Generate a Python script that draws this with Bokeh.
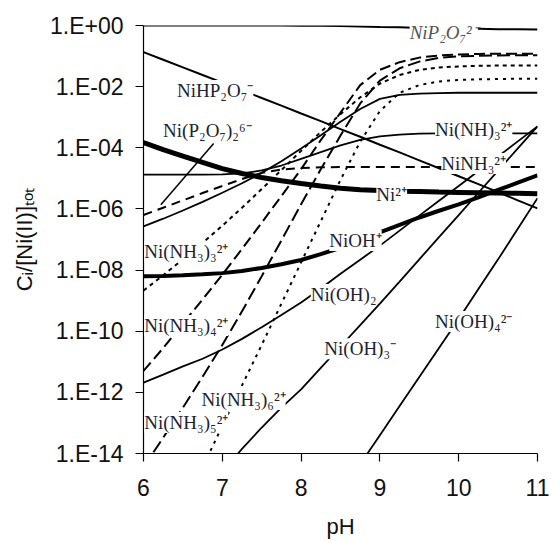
import math
from bokeh.plotting import figure
from bokeh.models import FixedTicker, CustomJSTickFormatter, Label
from bokeh.embed import file_html
from bokeh.resources import INLINE

nan = float("nan")

# pH grid
pH = [6, 6.25, 6.5, 6.75, 7, 7.25, 7.5, 7.75, 8, 8.25, 8.5, 8.75, 9, 9.25, 9.5, 9.75, 10, 10.25, 10.5, 10.75, 11]

# log10(Ci/[Ni(II)]tot)
NiP2O7 = [0, 0, 0, 0, 0, 0, 0, 0, -0.01, -0.01, -0.02, -0.03, -0.05, -0.06, -0.08, -0.09, -0.10, -0.11, -0.12, -0.125, -0.13]
NiHP2O7 = [-0.87, -1.12, -1.37, -1.62, -1.87, -2.12, -2.37, -2.62, -2.88, -3.13, -3.39, -3.64, -3.90, -4.15, -4.41, -4.67, -4.93, -5.19, -5.45, -5.72, -5.98]
Ni2 = [-3.83, -4.06, -4.27, -4.48, -4.68, -4.84, -4.97, -5.08, -5.17, -5.25, -5.32, -5.37, -5.40, -5.42, -5.43, -5.45, -5.46, -5.47, -5.48, -5.49, -5.50]
NiOH = [-8.20, -8.19, -8.17, -8.14, -8.10, -8.03, -7.93, -7.81, -7.67, -7.48, -7.27, -7.02, -6.77, -6.52, -6.28, -6.06, -5.85, -5.62, -5.38, -5.14, -4.90]
NiOH2 = [-11.68, -11.42, -11.15, -10.90, -10.60, -10.25, -9.87, -9.47, -9.06, -8.60, -8.12, -7.66, -7.20, -6.71, -6.22, -5.73, -5.25, -4.76, -4.28, -3.79, -3.30]
NiOH3 = [nan, nan, nan, nan, -14.60, -13.85, -13.15, -12.50, -11.90, -11.20, -10.50, -9.80, -9.10, -8.38, -7.65, -6.92, -6.20, -5.47, -4.75, -4.02, -3.30]
NiOH4 = [nan, nan, nan, nan, nan, nan, nan, nan, nan, nan, -15.30, -14.35, -13.40, -12.45, -11.50, -10.55, -9.60, -8.62, -7.65, -6.65, -5.65]
NiNH3_1 = [-4.88, -4.88, -4.88, -4.88, -4.87, -4.84, -4.74, -4.58, -4.36, -4.14, -3.92, -3.74, -3.63, -3.57, -3.54, -3.53, -3.53, -3.53, -3.53, -3.53, -3.53]
NiP2O7_2 = [-6.20, -5.96, -5.72, -5.48, -5.25, -5.02, -4.82, -4.71, -4.66, -4.64, -4.63, -4.63, -4.63, -4.63, -4.63, -4.63, -4.63, -4.63, -4.63, -4.63, -4.63]
NiNH3_2 = [-6.57, -6.32, -6.05, -5.77, -5.47, -5.16, -4.82, -4.44, -4.02, -3.59, -3.15, -2.73, -2.40, -2.27, -2.23, -2.21, -2.20, -2.20, -2.20, -2.20, -2.20]
NiNH3_3 = [-8.67, -8.17, -7.65, -7.11, -6.55, -5.96, -5.35, -4.73, -4.10, -3.48, -2.90, -2.35, -1.90, -1.62, -1.45, -1.37, -1.34, -1.32, -1.31, -1.31, -1.31]
NiNH3_4 = [-11.30, -10.55, -9.75, -8.96, -8.15, -7.31, -6.45, -5.58, -4.70, -3.75, -2.85, -1.95, -1.45, -1.20, -1.05, -0.98, -0.95, -0.93, -0.92, -0.92, -0.92]
NiNH3_5 = [-14.45, -13.48, -12.50, -11.49, -10.45, -9.35, -8.20, -7.03, -5.85, -4.70, -3.60, -2.55, -1.80, -1.40, -1.18, -1.06, -1.01, -0.99, -0.98, -0.97, -0.97]
NiNH3_6 = [nan, nan, -15.80, -14.45, -13.10, -11.77, -10.45, -9.10, -7.75, -6.40, -5.05, -3.80, -2.80, -2.20, -1.95, -1.83, -1.78, -1.76, -1.75, -1.74, -1.74]

# leader line from the Ni(P2O7)2 label
leader_x = [6.89, 6.22]
leader_y = [-3.86, -5.86]

y_ticks_exp = [-14, -12, -10, -8, -6, -4, -2, 0]
x_ticks = [6, 7, 8, 9, 10, 11]

def lin(v):
    return [10 ** a if a == a else nan for a in v]

p = figure(width=551, height=542, x_range=(6, 11), y_range=(1e-14, 1),
           y_axis_type="log", output_backend="svg", toolbar_location=None,
           min_border_left=143, min_border_right=14, min_border_top=25, min_border_bottom=89)
p.outline_line_color = None
p.xgrid.visible = False
p.ygrid.visible = False
p.background_fill_color = "white"
p.border_fill_color = "white"

curves = [
    (NiP2O7, 2, "solid"),
    (NiHP2O7, 2, "solid"),
    (NiNH3_1, 1.8, "solid"),
    (NiNH3_2, 1.8, "solid"),
    (NiP2O7_2, 2, "9 6"),
    (NiNH3_3, 2, "4 4"),
    (NiNH3_4, 2, "11 5"),
    (NiNH3_5, 2, "13 5"),
    (NiNH3_6, 2, "3 5"),
    (NiOH2, 1.8, "solid"),
    (NiOH3, 1.8, "solid"),
    (NiOH4, 1.8, "solid"),
    (Ni2, 5, "solid"),
    (NiOH, 4, "solid"),
]
for data, w, dash in curves:
    p.line(pH, lin(data), line_color="black", line_width=w, line_dash=dash)

p.line(leader_x, lin(leader_y), line_color="black", line_width=1.5)

# (text, x, log y, align, font style, colour)
labels = [
    ("NiP\u2082O\u2087\u00b2\u207b", 9.81, -0.23, "center", "italic", "#555555"),
    ("NiHP\u2082O\u2087\u207b", 6.91, -2.13, "center", "normal", "#222233"),
    ("Ni(P\u2082O\u2087)\u2082\u2076\u207b", 6.81, -3.43, "center", "normal", "#222233"),
    ("Ni(NH)\u2083\u00b2\u207a", 10.19, -3.40, "center", "normal", "#222233"),
    ("NiNH\u2083\u00b2\u207a", 10.19, -4.51, "center", "normal", "#222233"),
    ("Ni\u00b2\u207a", 9.15, -5.53, "center", "normal", "#222233"),
    ("NiOH\u207a", 8.69, -7.03, "center", "normal", "#222233"),
    ("Ni(NH\u2083)\u2083\u00b2\u207a", 6.01, -7.39, "left", "normal", "#222233"),
    ("Ni(OH)\u2082", 8.54, -8.80, "center", "normal", "#222233"),
    ("Ni(NH\u2083)\u2084\u00b2\u207a", 6.01, -9.81, "left", "normal", "#222233"),
    ("Ni(OH)\u2083\u207b", 8.75, -10.57, "center", "normal", "#222233"),
    ("Ni(OH)\u2084\u00b2\u207b", 10.19, -9.68, "center", "normal", "#222233"),
    ("Ni(NH\u2083)\u2086\u00b2\u207a", 7.27, -12.23, "center", "normal", "#222233"),
    ("Ni(NH\u2083)\u2085\u00b2\u207a", 6.01, -12.99, "left", "normal", "#222233"),
]
for txt, lx, ly, al, fs, col in labels:
    p.add_layout(Label(x=lx, y=10 ** ly, text=txt, text_align=al, text_baseline="middle",
                       text_font="Liberation Serif", text_font_size="19px", text_font_style=fs,
                       text_color=col, background_fill_color="white", background_fill_alpha=1.0))

for ax in (p.xaxis[0], p.yaxis[0]):
    ax.axis_line_color = "black"
    ax.axis_line_width = 1.2
    ax.major_tick_line_color = "black"
    ax.major_tick_line_width = 1.2
    ax.major_tick_in = 0
    ax.major_tick_out = 8
    ax.minor_tick_line_color = None
    ax.major_label_text_font = "Liberation Sans"
    ax.major_label_text_font_size = "23px"
    ax.major_label_text_color = "#111111"
    ax.axis_label_text_font = "Liberation Sans"
    ax.axis_label_text_font_size = "22px"
    ax.axis_label_text_font_style = "normal"
    ax.axis_label_text_color = "#111111"

p.xaxis.ticker = FixedTicker(ticks=x_ticks)
p.xaxis.major_label_standoff = 17
p.xaxis.axis_label = "pH"
p.xaxis.axis_label_standoff = 15

p.yaxis.ticker = FixedTicker(ticks=[10.0 ** e for e in y_ticks_exp])
p.yaxis.formatter = CustomJSTickFormatter(code="""
const e = Math.round(Math.log10(tick));
const a = Math.abs(e);
return '1.E' + (e < 0 ? '-' : '+') + (a < 10 ? '0' : '') + a;
""")
p.yaxis.major_label_standoff = 12
p.yaxis.axis_label = "C\u1d62/[Ni(II)]\u209c\u2092\u209c"
p.yaxis.axis_label_standoff = 10

open("out.html", "w").write(file_html(p, INLINE))
